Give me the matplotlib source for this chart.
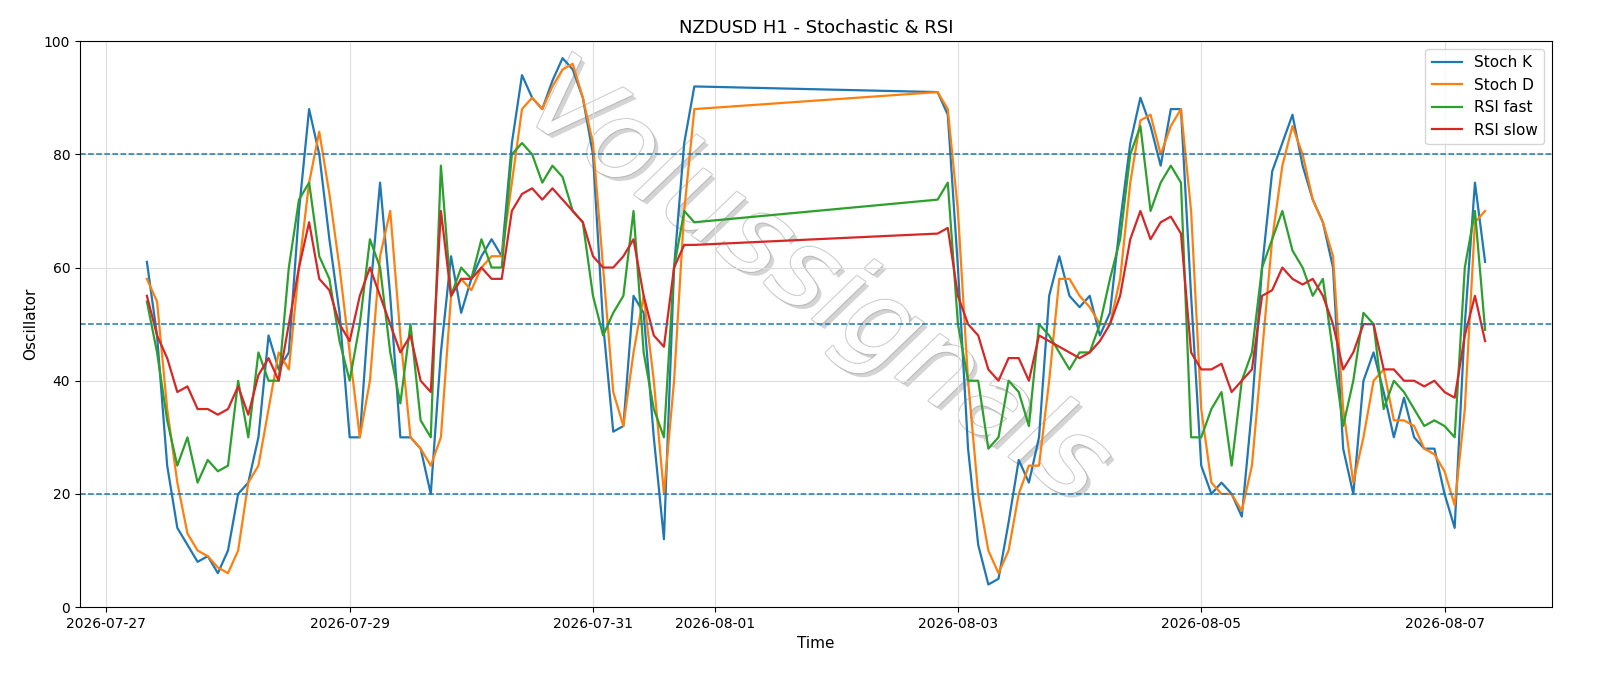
import matplotlib
matplotlib.use("Agg")
import matplotlib.pyplot as plt
import matplotlib.patheffects as pe
import pandas as pd

t1 = pd.date_range("2026-07-27 08:00", periods=55, freq="2h")
k1 = [61,48,25,14,11,8,9,6,10,20,22,30,48,42,45,70,88,80,65,52,30,30,55,75,55,30,30,28,20,45,62,52,58,62,65,62,82,94,90,88,93,97,95,90,80,50,31,32,55,52,30,12,60,82,92]
d1 = [58,54,35,22,13,10,9,7,6,10,22,25,35,45,42,60,75,84,73,60,45,30,40,62,70,48,30,28,25,30,55,58,56,60,62,62,75,88,90,88,92,95,96,90,82,60,38,32,45,55,40,20,40,70,88]
f1 = [54,45,33,25,30,22,26,24,25,40,30,45,40,40,60,72,75,62,58,47,40,50,65,60,45,36,50,33,30,78,55,60,58,65,60,60,80,82,80,75,78,76,70,68,55,48,52,55,70,45,35,30,60,70,68]
s1 = [55,48,44,38,39,35,35,34,35,39,34,41,44,40,50,60,68,58,56,50,47,55,60,55,50,45,48,40,38,70,55,58,58,60,58,58,70,73,74,72,74,72,70,68,62,60,60,62,65,55,48,46,60,64,64]

t2 = pd.date_range("2026-08-02 20:00", periods=55, freq="2h")
k2 = [91,87,60,28,11,4,5,15,26,22,30,55,62,55,53,55,48,52,68,82,90,85,78,88,88,55,25,20,22,20,16,35,60,77,82,87,78,72,68,60,28,20,40,45,38,30,37,30,28,28,20,14,50,75,61]
d2 = [91,88,70,40,20,10,6,10,20,25,25,40,58,58,55,53,50,50,58,75,86,87,80,85,88,70,35,22,20,20,17,25,45,65,78,85,80,72,68,62,35,22,30,40,42,33,33,32,28,27,24,18,35,68,70]
f2 = [72,75,50,40,40,28,30,40,38,32,50,48,45,42,45,45,50,58,65,80,85,70,75,78,75,30,30,35,38,25,40,45,60,65,70,63,60,55,58,45,32,40,52,50,35,40,38,35,32,33,32,30,60,70,49]
s2 = [66,67,55,50,48,42,40,44,44,40,48,47,46,45,44,45,47,50,55,65,70,65,68,69,66,45,42,42,43,38,40,42,55,56,60,58,57,58,55,50,42,45,50,50,42,42,40,40,39,40,38,37,48,55,47]

times = list(t1) + list(t2)
K, D, F, S = k1 + k2, d1 + d2, f1 + f2, s1 + s2

fig, ax = plt.subplots(figsize=(16, 6.86), dpi=100)
ax.plot(times, K, color="#1f77b4", lw=1.6, label="Stoch K")
ax.plot(times, D, color="#ff7f0e", lw=1.6, label="Stoch D")
ax.plot(times, F, color="#2ca02c", lw=1.6, label="RSI fast")
ax.plot(times, S, color="#d62728", lw=1.6, label="RSI slow")
for y in (20, 50, 80):
    ax.axhline(y, color="#1f77b4", ls="--", lw=1.1)
ax.set_ylim(0, 100)
ax.grid(True, color="#dddddd", lw=0.8)
ax.set_title("NZDUSD H1 - Stochastic & RSI", fontsize=13)
ax.set_xlabel("Time", fontsize=11)
ax.set_ylabel("Oscillator", fontsize=11)
ax.legend(loc="upper right", fontsize=11)
ax.text(0.5, 0.57, "Volussignals", transform=ax.transAxes, fontsize=80, style="italic",
        weight="light", color="white", alpha=0.9, rotation=-35, ha="center", va="center",
        path_effects=[pe.withStroke(linewidth=2, foreground="#cccccc"),
                      pe.withSimplePatchShadow(offset=(3, -3), shadow_rgbFace="#aaaaaa", alpha=0.5),
                      pe.Normal()], zorder=0)
fig.subplots_adjust(left=0.05, right=0.97, top=0.94, bottom=0.115)
fig.savefig("out.png")
